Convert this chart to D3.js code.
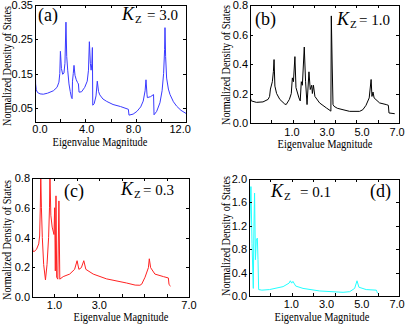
<!DOCTYPE html>
<html>
<head>
<meta charset="utf-8">
<script src="https://cdn.jsdelivr.net/npm/d3@7"></script>
<style>
  body { margin: 0; background: #fff; }
  svg { display: block; }
  .tick-label { font-family: "Liberation Sans", Arial, sans-serif; font-size: 11px; fill: #000; }
  .axis-title { font-family: "Liberation Serif", "Times New Roman", serif; font-size: 12px; fill: #000; }
  .tag { font-family: "Liberation Serif", "Times New Roman", serif; font-size: 18px; fill: #000; }
  .kz { font-family: "Liberation Serif", "Times New Roman", serif; fill: #000; }
</style>
</head>
<body>
<svg id="chart" width="407" height="326"></svg>
<script>
// panel (a) K_Z = 3.0
const aX = [0, 0.05, 0.1, 0.2, 0.4, 0.66, 1.0, 1.46, 1.75, 1.9, 1.97, 2.02, 2.1, 2.2, 2.3, 2.38, 2.46, 2.52, 2.6, 2.7, 2.8, 2.9, 2.95, 2.98, 3.04, 3.1, 3.18, 3.28, 3.38, 3.45, 3.5, 3.7, 3.95, 4.15, 4.25, 4.32, 4.4, 4.46, 4.52, 4.56, 4.59, 4.7, 4.85, 4.95, 5.05, 5.15, 5.4, 5.7, 6.2, 6.8, 7.42, 7.47, 7.8, 8.1, 8.4, 8.6, 8.75, 8.82, 8.9, 8.93, 9.19, 9.42, 9.46, 9.67, 9.93, 10.1, 10.22, 10.3, 10.33, 10.38, 10.46, 10.6, 10.73, 11.0, 11.26, 11.6, 12.0];
const aY = [0.234, 0.12, 0.103, 0.095, 0.091, 0.09, 0.093, 0.1, 0.11, 0.125, 0.15, 0.215, 0.165, 0.148, 0.152, 0.18, 0.30, 0.2, 0.16, 0.12, 0.098, 0.08, 0.077, 0.128, 0.15, 0.174, 0.145, 0.132, 0.124, 0.12, 0.096, 0.097, 0.11, 0.128, 0.16, 0.243, 0.18, 0.16, 0.18, 0.226, 0.058, 0.062, 0.085, 0.128, 0.098, 0.088, 0.076, 0.069, 0.06, 0.054, 0.046, 0.029, 0.032, 0.04, 0.053, 0.07, 0.1, 0.132, 0.09, 0.08, 0.083, 0.089, 0.03, 0.04, 0.065, 0.1, 0.15, 0.22, 0.284, 0.2, 0.137, 0.105, 0.089, 0.068, 0.055, 0.043, 0.034];

// panel (b) K_Z = 1.0
const bX = [0, 0.06, 0.3, 0.61, 0.85, 0.92, 0.96, 1.05, 1.1, 1.13, 1.17, 1.25, 1.4, 1.63, 1.7, 1.85, 1.94, 1.99, 2.04, 2.11, 2.16, 2.3, 2.36, 2.41, 2.46, 2.55, 2.61, 2.68, 2.77, 2.83, 2.9, 2.93, 2.98, 3.05, 3.27, 3.59, 3.77, 3.8, 3.82, 3.86, 3.9, 3.95, 4.1, 4.37, 4.68, 5.15, 5.3, 5.45, 5.6, 5.69, 5.73, 5.78, 5.83, 6.09, 6.4, 6.5, 6.53, 6.8];
const bY = [0.18, 0.15, 0.14, 0.143, 0.16, 0.18, 0.23, 0.28, 0.35, 0.43, 0.25, 0.2, 0.16, 0.129, 0.125, 0.16, 0.2, 0.306, 0.28, 0.45, 0.24, 0.17, 0.15, 0.28, 0.256, 0.515, 0.283, 0.125, 0.347, 0.227, 0.256, 0.2, 0.256, 0.18, 0.136, 0.102, 0.084, 0.08, 0.726, 0.4, 0.125, 0.113, 0.1, 0.09, 0.079, 0.079, 0.09, 0.12, 0.17, 0.295, 0.18, 0.21, 0.17, 0.136, 0.125, 0.12, 0.068, 0.063];

// panel (c) K_Z = 0.3
const cX = [0, 0.04, 0.09, 0.2, 0.3, 0.34, 0.37, 0.39, 0.42, 0.46, 0.52, 0.6, 0.67, 0.74, 0.78, 0.8, 0.84, 0.9, 0.98, 1.01, 1.04, 1.07, 1.1, 1.15, 1.2, 1.24, 1.39, 1.68, 1.9, 2.01, 2.09, 2.2, 2.31, 2.4, 2.73, 3.32, 4.22, 4.6, 4.81, 4.89, 5.04, 5.19, 5.23, 5.29, 5.48, 5.86, 6.08, 6.11, 6.18];
const cY = [0.38, 0.31, 0.305, 0.32, 0.357, 0.41, 0.6, 0.82, 0.6, 0.4, 0.218, 0.115, 0.218, 0.4, 0.6, 0.82, 0.55, 0.47, 0.42, 0.6, 0.175, 0.68, 0.133, 0.12, 0.646, 0.12, 0.137, 0.154, 0.186, 0.244, 0.186, 0.197, 0.244, 0.186, 0.154, 0.122, 0.094, 0.08, 0.079, 0.086, 0.133, 0.197, 0.257, 0.197, 0.154, 0.137, 0.128, 0.083, 0.073];

// panel (d) K_Z = 0.1
const dX = [0, 0.05, 0.09, 0.14, 0.2, 0.23, 0.26, 0.3, 0.34, 0.39, 0.42, 0.45, 0.6, 0.96, 1.59, 1.87, 1.93, 1.99, 2.05, 2.18, 2.52, 3.3, 4.39, 4.7, 4.93, 5.04, 5.13, 5.47, 5.94, 5.97, 6.0];
const dY = [0.85, 1.4, 1.87, 0.9, 0.13, 1.19, 1.76, 0.62, 0.96, 0.99, 0.62, 0.11, 0.1, 0.11, 0.16, 0.22, 0.26, 0.22, 0.25, 0.17, 0.13, 0.086, 0.063, 0.074, 0.13, 0.26, 0.15, 0.11, 0.1, 0.074, 0.046];

// tick values (labelled ticks and unlabelled inner ticks)
const aXTicks = [0, 4, 8, 12], aXMinor = [2, 6, 10], aYTicks = [0.05, 0.15, 0.25, 0.35];
const bXTicks = [1, 3, 5, 7], bXMinor = [2, 4, 6], bYTicks = [0, 0.2, 0.4, 0.6, 0.8];
const cXTicks = [1, 3, 7], cXMinor = [2, 4, 5, 6], cYTicks = [0, 0.2, 0.4, 0.6, 0.8];
const dXTicks = [1, 3, 5, 7], dXMinor = [2, 4, 6], dYTicks = [0, 0.4, 0.8, 1.2, 1.6, 2.0];

// labelDomain: the printed x labels in the original sit on a slightly different spacing than the frame
const panels = [
  { id: 'a', xs: aX, ys: aY, color: '#3a3aff', box: [35, 5, 186, 122], xDomain: [0, 12], labelDomain: [-0.43, 12.5], yDomain: [0.009, 0.35],
    xTicks: aXTicks, xMinor: aXMinor, yTicks: aYTicks, yFmt: '.2f',
    tag: '(a)', tagPos: [38, 21], kz: '3.0', kzPos: [122, 20], kzGap: 25,
    yTitle: [11, 66], xTitle: [100, 146], xLabY: 133 },
  { id: 'b', xs: bX, ys: bY, color: '#000', box: [250, 5, 399, 123], xDomain: [0, 7], labelDomain: [-1.4, 7.11], yDomain: [0, 0.8],
    xTicks: bXTicks, xMinor: bXMinor, yTicks: bYTicks, yFmt: '.1f',
    tag: '(b)', tagPos: [255, 25], kz: '1.0', kzPos: [337, 25], kzGap: 22,
    yTitle: [230, 65], xTitle: [325, 148], xLabY: 136 },
  { id: 'c', xs: cX, ys: cY, color: '#ff2222', box: [32, 178, 189, 297], xDomain: [0, 7], labelDomain: [0, 7], yDomain: [0, 0.8],
    xTicks: cXTicks, xMinor: cXMinor, yTicks: cYTicks, yFmt: '.1f',
    tag: '(c)', tagPos: [64, 197], kz: '0.3', kzPos: [121, 195], kzGap: 22,
    yTitle: [11, 240], xTitle: [121, 321], xLabY: 309 },
  { id: 'd', xs: dX, ys: dY, color: '#22ffff', box: [249, 179, 399, 296], xDomain: [0, 7], labelDomain: [-1.4, 7.11], yDomain: [0, 2.0],
    xTicks: dXTicks, xMinor: dXMinor, yTicks: dYTicks, yFmt: '.1f',
    tag: '(d)', tagPos: [370, 197], kz: '0.1', kzPos: [271, 197], kzGap: 29,
    yTitle: [230, 236], xTitle: [322, 321], xLabY: 308 }
];

const svg = d3.select('#chart');

// squeeze a text horizontally to a target width (the original lettering is condensed)
function fitWidth(sel, width, base) {
  const len = sel.node().getComputedTextLength();
  sel.attr('transform', `${base} scale(${Math.min(1, width / len)},1)`);
}

panels.forEach(p => {
  const [x0, y0, x1, y1] = p.box;
  const x = d3.scaleLinear().domain(p.xDomain).range([x0, x1]);
  const xl = d3.scaleLinear().domain(p.labelDomain).range([x0, x1]);
  const y = d3.scaleLinear().domain(p.yDomain).range([y1, y0]);
  const g = svg.append('g');

  g.append('clipPath').attr('id', 'clip-' + p.id)
    .append('rect').attr('x', x0).attr('y', y0).attr('width', x1 - x0).attr('height', y1 - y0);

  const pts = p.xs.map((v, i) => [v, p.ys[i]]);
  g.append('path')
    .datum(pts)
    .attr('clip-path', `url(#clip-${p.id})`)
    .attr('fill', 'none')
    .attr('stroke', p.color)
    .attr('stroke-width', 1)
    .attr('stroke-linejoin', 'round')
    .attr('d', d3.line().x(d => x(d[0])).y(d => y(d[1])));

  // inward ticks on all four sides
  const ticks = g.append('g').attr('stroke', '#000').attr('stroke-width', 1);
  p.xTicks.concat(p.xMinor).forEach(v => {
    const px = Math.round(x(v)) + 0.5;
    if (px <= x0 + 1 || px >= x1) return;
    ticks.append('line').attr('x1', px).attr('x2', px).attr('y1', y1).attr('y2', y1 - 3);
    ticks.append('line').attr('x1', px).attr('x2', px).attr('y1', y0).attr('y2', y0 + 3);
  });
  p.yTicks.forEach(v => {
    const py = Math.round(y(v)) + 0.5;
    ticks.append('line').attr('x1', x0).attr('x2', x0 + 3).attr('y1', py).attr('y2', py);
    ticks.append('line').attr('x1', x1).attr('x2', x1 - 3).attr('y1', py).attr('y2', py);
  });

  g.append('rect')
    .attr('x', x0 + 0.5).attr('y', y0 + 0.5)
    .attr('width', x1 - x0).attr('height', y1 - y0)
    .attr('fill', 'none').attr('stroke', '#000').attr('stroke-width', 1);

  const fmt = d3.format(p.yFmt);
  g.selectAll('.ylab').data(p.yTicks).join('text')
    .attr('class', 'tick-label')
    .attr('x', x0 - 2).attr('y', d => y(d) + 4)
    .attr('text-anchor', 'end')
    .text(d => fmt(d));

  g.selectAll('.xlab').data(p.xTicks).join('text')
    .attr('class', 'tick-label')
    .attr('x', d => xl(d)).attr('y', p.xLabY)
    .attr('text-anchor', 'middle')
    .text(d => d3.format('.1f')(d));

  const yt = g.append('text').attr('class', 'axis-title')
    .attr('text-anchor', 'middle')
    .text('Normalized Density of States');
  fitWidth(yt, 120, `translate(${p.yTitle[0]},${p.yTitle[1]}) rotate(-90)`);

  const xt = g.append('text').attr('class', 'axis-title')
    .attr('text-anchor', 'middle')
    .text('Eigenvalue Magnitude');
  fitWidth(xt, 95, `translate(${p.xTitle[0]},${p.xTitle[1]})`);

  g.append('text').attr('class', 'tag')
    .attr('x', p.tagPos[0]).attr('y', p.tagPos[1])
    .text(p.tag);

  const k = g.append('text').attr('class', 'kz')
    .attr('x', p.kzPos[0]).attr('y', p.kzPos[1]);
  k.append('tspan').attr('font-style', 'italic').attr('font-size', 18).text('K');
  k.append('tspan').attr('font-size', 11).attr('dy', 3).attr('dx', 1).text('Z');
  k.append('tspan').attr('font-size', 15).attr('dy', -3)
    .attr('x', p.kzPos[0] + p.kzGap).text('= ' + p.kz);
});
</script>
</body>
</html>
